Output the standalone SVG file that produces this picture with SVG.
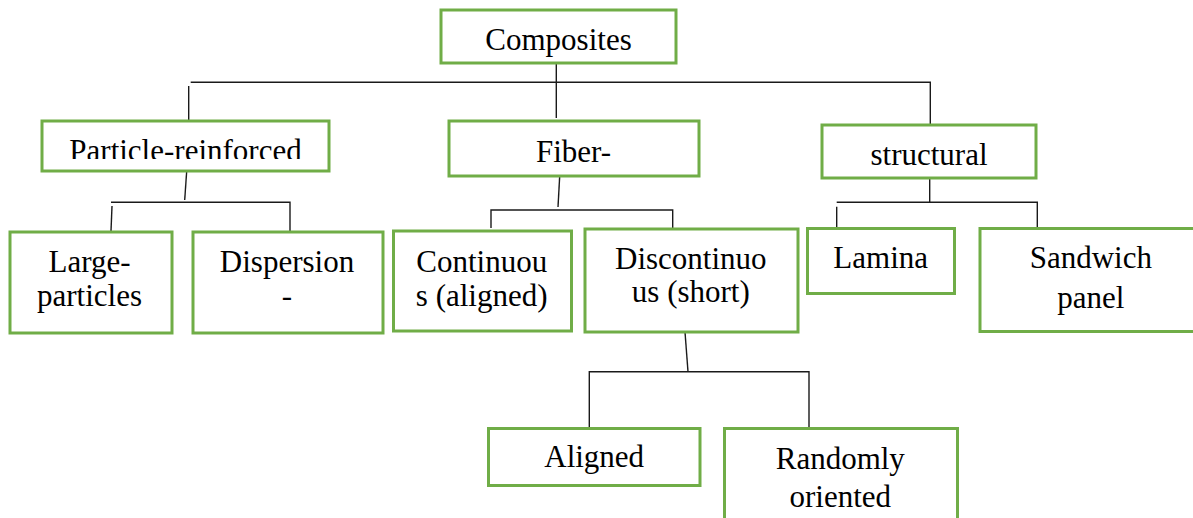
<svg xmlns="http://www.w3.org/2000/svg" width="1193" height="518" viewBox="0 0 1193 518">
  <style>
    .box { fill: #ffffff; stroke: #70ad47; stroke-width: 3; }
    .lbl { font-size: 31px; fill: #000000; text-anchor: middle; }
    .wire { fill: none; stroke: #1a1a1a; stroke-width: 1.4; }
  </style>
  <defs>
    <clipPath id="clipParticle">
      <rect x="40" y="118" width="292" height="41"/>
    </clipPath>
  </defs>
  <rect width="1193" height="518" fill="#ffffff"/>

  <g id="connectors">
    <!-- root to first level -->
    <path class="wire" d="M556.3 63 V118"/>
    <path class="wire" d="M190.7 82.3 H930.3 V125"/>
    <path class="wire" d="M188.7 86 V121"/>
    <!-- particle-reinforced branch -->
    <path class="wire" d="M186.7 171 L184.7 200"/>
    <path class="wire" d="M111 202.3 H290 V231"/>
    <path class="wire" d="M112 206 L111 231"/>
    <!-- fiber branch -->
    <path class="wire" d="M559.7 176 L558 207"/>
    <path class="wire" d="M491 228 V210 H672.7 V228"/>
    <!-- structural branch -->
    <path class="wire" d="M929.7 177.7 V203"/>
    <path class="wire" d="M836.7 202.3 H1037.3 V228"/>
    <path class="wire" d="M836.7 206.7 V228"/>
    <!-- discontinuous branch -->
    <path class="wire" d="M685 332 L688 371.7"/>
    <path class="wire" d="M589.3 428 V371.7 H809 V428"/>
  </g>

  <g font-family="Liberation Serif, DejaVu Serif, serif">
  <g id="composites">
    <rect class="box" x="441" y="10" width="235" height="53"/>
    <text class="lbl" x="558.5" y="50">Composites</text>
  </g>

  <g id="particle-reinforced">
    <rect class="box" x="42" y="121" width="287" height="50"/>
    <text class="lbl" x="185.5" y="161" clip-path="url(#clipParticle)">Particle-reinforced</text>
  </g>

  <g id="fiber">
    <rect class="box" x="449" y="121" width="250" height="55"/>
    <text class="lbl" x="573.5" y="161.7">Fiber-</text>
  </g>

  <g id="structural">
    <rect class="box" x="822" y="125" width="214" height="53"/>
    <text class="lbl" x="929" y="165">structural</text>
  </g>

  <g id="large-particles">
    <rect class="box" x="10" y="232" width="162" height="101"/>
    <text class="lbl" x="89.5" y="271.7">Large-</text>
    <text class="lbl" x="89.5" y="306">particles</text>
  </g>

  <g id="dispersion">
    <rect class="box" x="193" y="232" width="190" height="101"/>
    <text class="lbl" x="287" y="271.7">Dispersion</text>
    <text class="lbl" x="287" y="306">-</text>
  </g>

  <g id="continuous">
    <rect class="box" x="393.5" y="231" width="178" height="100"/>
    <text class="lbl" x="481.7" y="271.7">Continuou</text>
    <text class="lbl" x="481.7" y="306">s (aligned)</text>
  </g>

  <g id="discontinuous">
    <rect class="box" x="585" y="229" width="213" height="103"/>
    <text class="lbl" x="690.8" y="269">Discontinuo</text>
    <text class="lbl" x="690.8" y="301.7">us (short)</text>
  </g>

  <g id="lamina">
    <rect class="box" x="807.5" y="228.5" width="147" height="65"/>
    <text class="lbl" x="880.7" y="268.3">Lamina</text>
  </g>

  <g id="sandwich-panel">
    <rect class="box" x="980" y="228.5" width="230" height="103"/>
    <text class="lbl" x="1090.8" y="268">Sandwich</text>
    <text class="lbl" x="1090.8" y="308.3">panel</text>
  </g>

  <g id="aligned">
    <rect class="box" x="488.5" y="428.5" width="211.5" height="57"/>
    <text class="lbl" x="594.2" y="467.3">Aligned</text>
  </g>

  <g id="randomly-oriented">
    <rect class="box" x="724.5" y="428.5" width="233" height="110"/>
    <text class="lbl" x="840.3" y="469">Randomly</text>
    <text class="lbl" x="840.3" y="506.7">oriented</text>
  </g>
  </g>
</svg>
